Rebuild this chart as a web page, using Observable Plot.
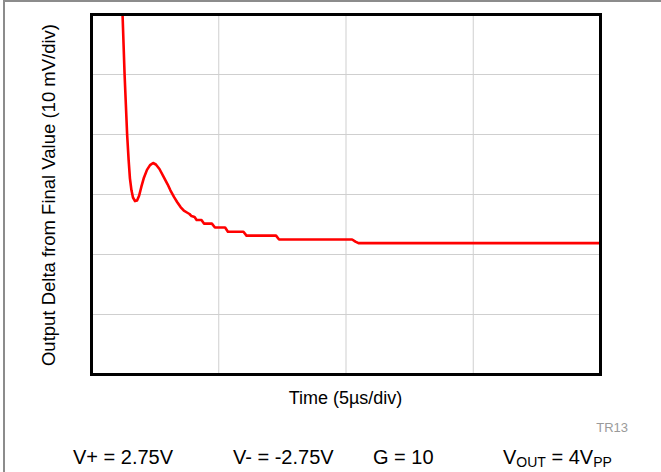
<!DOCTYPE html>
<html>
<head>
<meta charset="utf-8">
<script src="https://cdn.jsdelivr.net/npm/d3@7"></script>
<script src="https://cdn.jsdelivr.net/npm/@observablehq/plot@0.6"></script>
<style>
  html, body { margin: 0; padding: 0; background: #fff; }
  #wrap { position: relative; width: 661px; height: 472px; overflow: hidden; font-family: "Liberation Sans", Arial, sans-serif; color: #000; }
  #border { position: absolute; left: 3px; top: 0px; width: 700px; height: 520px; border: 2px solid #8c8c8c; box-sizing: border-box; }
  #chart { position: absolute; left: 0; top: 0; }
  .t { position: absolute; white-space: nowrap; }
  .sub { font-size: 14px; position: relative; top: 3px; line-height: 14px; }
</style>
</head>
<body>
<div id="wrap">
  <div id="border"></div>
  <div id="chart"></div>
</div>
<script>
// Time axis (µs, 5 µs/div) and output delta (mV, 10 mV/div)
const time = [1.19, 1.22, 1.26, 1.30, 1.35, 1.40, 1.46, 1.51, 1.57, 1.63, 1.71, 1.79, 1.87, 1.96, 2.06, 2.18, 2.30, 2.42, 2.53, 2.67, 2.84, 2.99, 3.10, 3.24, 3.37, 3.50, 3.63, 3.75, 3.85, 3.93, 4.05, 4.13, 4.32, 4.42, 4.73, 4.85, 5.25, 5.36, 5.97, 6.09, 7.25, 7.37, 10.24, 10.37, 10.49, 20.0];
const delta = [32.3, 30.0, 25.0, 20.0, 15.0, 10.0, 5.7, 2.7, 0.7, -0.5, -1.1, -1.0, -0.2, 1.3, 2.8, 4.1, 4.9, 5.25, 5.0, 4.25, 2.9, 1.7, 0.7, -0.4, -1.3, -2.1, -2.7, -3.0, -3.25, -3.6, -3.75, -4.25, -4.25, -4.85, -4.85, -5.5, -5.5, -6.2, -6.2, -6.85, -6.85, -7.5, -7.5, -7.85, -8.1, -8.1];
const xTicks = [0, 5, 10, 15, 20];
const yTicks = [-30, -20, -10, 0, 10, 20, 30];
const xLabel = "Time (5µs/div)";
const yLabel = "Output Delta from Final Value (10 mV/div)";
const tag = "TR13";
const conditions = ["V+ = 2.75V", "V- = -2.75V", "G = 10"];

const data = time.map((t, i) => ({t, v: delta[i]}));

const chart = Plot.plot({
  width: 661,
  height: 390,
  marginLeft: 91,
  marginRight: 61,
  marginTop: 14,
  marginBottom: 16,
  style: {background: "transparent"},
  x: {domain: [0, 20], axis: null},
  y: {domain: [-30, 30], axis: null},
  marks: [
    Plot.gridX(xTicks, {stroke: "#cfcfcf", strokeOpacity: 1, strokeWidth: 1}),
    Plot.gridY(yTicks, {stroke: "#cfcfcf", strokeOpacity: 1, strokeWidth: 1}),
    Plot.line(data, {x: "t", y: "v", stroke: "#ff0000", strokeWidth: 2.6, clip: true}),
    Plot.frame({stroke: "#000", strokeWidth: 3})
  ]
});
document.getElementById("chart").appendChild(chart);

const wrap = document.getElementById("wrap");
function addText(html, opts) {
  const d = document.createElement("div");
  d.className = "t";
  d.innerHTML = html;
  d.style.fontSize = opts.size + "px";
  d.style.lineHeight = opts.size + "px";
  if (opts.color) d.style.color = opts.color;
  d.style.left = opts.left + "px";
  d.style.top = opts.top + "px";
  if (opts.transform) d.style.transform = opts.transform;
  wrap.appendChild(d);
  return d;
}
addText(xLabel, {size: 18, left: 345.5, top: 404 - 0.8465 * 18, transform: "translateX(-50%)"});
addText(yLabel, {size: 18.5, left: 49, top: 194.5, transform: "translate(-50%,-50%) rotate(-90deg)"});
addText(tag, {size: 13, left: 628, top: 432 - 0.8465 * 13, color: "#9a9a9a", transform: "translateX(-100%)"});
const lefts = [73, 233, 373];
conditions.forEach((c, i) => addText(c, {size: 20, left: lefts[i], top: 464 - 0.8465 * 20}));
addText('V<span class="sub">OUT</span> = 4V<span class="sub">PP</span>', {size: 20, left: 503, top: 464 - 0.8465 * 20});
</script>
</body>
</html>
